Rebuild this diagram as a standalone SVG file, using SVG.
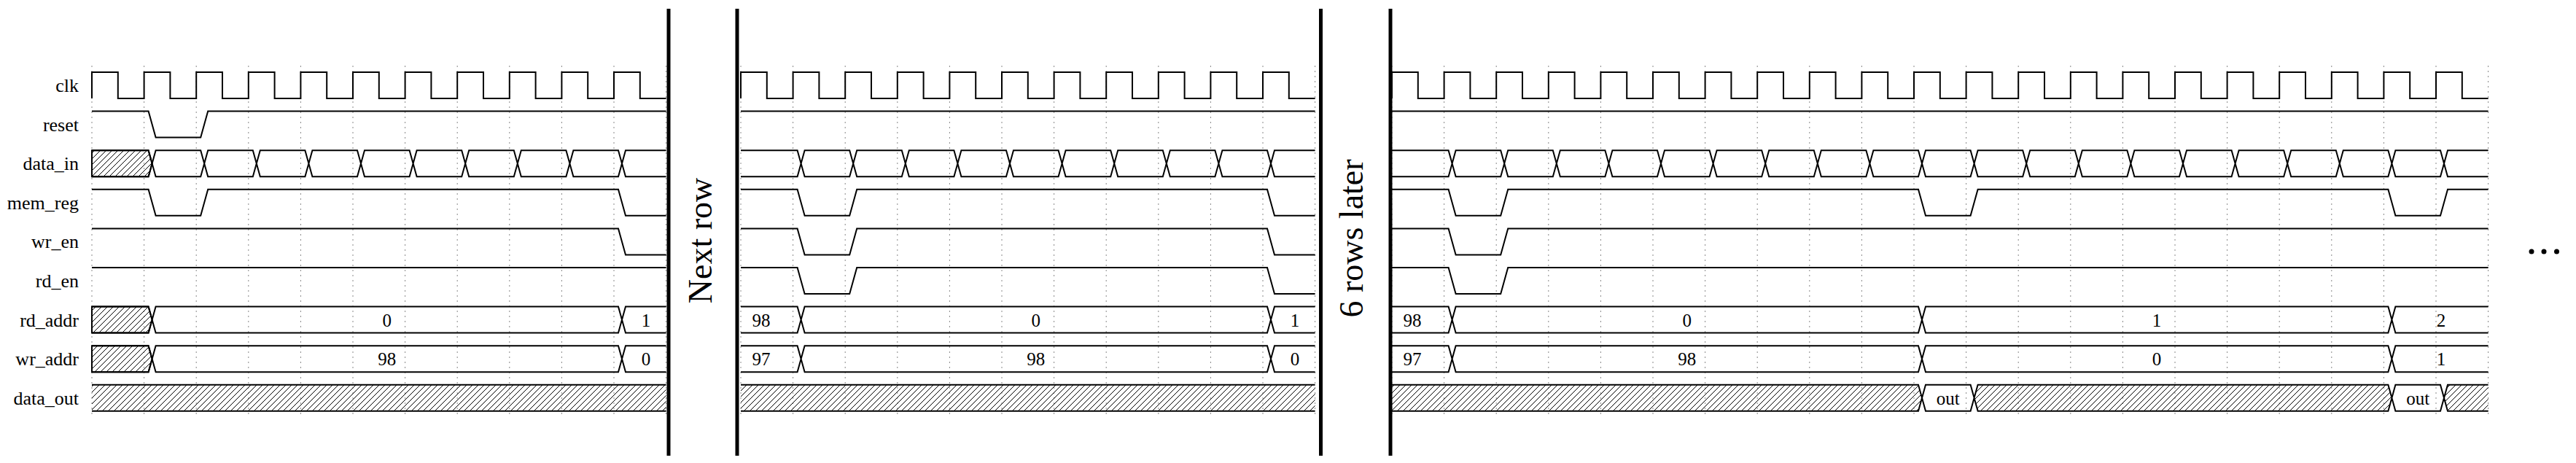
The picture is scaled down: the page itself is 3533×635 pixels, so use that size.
<svg xmlns="http://www.w3.org/2000/svg" width="3533" height="635" viewBox="0 0 3533 635">
<defs>
<pattern id="hatch" patternUnits="userSpaceOnUse" width="8" height="8">
<path d="M0,8 L8,0 M-2,2 L2,-2 M6,10 L10,6" stroke="#000" stroke-width="1"/>
</pattern>
</defs>
<style>
.sig{fill:none;stroke:#000;stroke-width:2;stroke-linejoin:miter}
.h{fill:url(#hatch);stroke:#000;stroke-width:2}
.bus{fill:#fff;stroke:#000;stroke-width:2}
.grid{stroke:#888;stroke-width:1;stroke-dasharray:2,5;fill:none}
.lbl{font-family:"Liberation Serif","Times New Roman",serif;font-size:26px;text-anchor:end;fill:#000}
.val{font-family:"Liberation Serif","Times New Roman",serif;font-size:25px;text-anchor:middle;fill:#000}
.big{font-family:"Liberation Serif","Times New Roman",serif;font-size:46px;text-anchor:middle;fill:#000}
.bar{stroke:#000;stroke-width:5}
</style>
<rect width="3533" height="635" fill="#fff"/>
<g id="labels">
<text class="lbl" x="108" y="126">clk</text>
<text class="lbl" x="108" y="179.6">reset</text>
<text class="lbl" x="108" y="233.2">data_in</text>
<text class="lbl" x="108" y="286.8">mem_reg</text>
<text class="lbl" x="108" y="340.4">wr_en</text>
<text class="lbl" x="108" y="394">rd_en</text>
<text class="lbl" x="108" y="447.6">rd_addr</text>
<text class="lbl" x="108" y="501.2">wr_addr</text>
<text class="lbl" x="108" y="554.8">data_out</text>
</g>
<g id="grid">
<path class="grid" d="M126,90V572 M197.6,90V572 M269.2,90V572 M340.8,90V572 M412.4,90V572 M484,90V572 M555.6,90V572 M627.2,90V572 M698.8,90V572 M770.4,90V572 M842,90V572 M913.6,90V572"/>
<path class="grid" d="M1016,90V572 M1087.6,90V572 M1159.2,90V572 M1230.8,90V572 M1302.4,90V572 M1374,90V572 M1445.6,90V572 M1517.2,90V572 M1588.8,90V572 M1660.4,90V572 M1732,90V572 M1803.6,90V572"/>
<path class="grid" d="M1909,90V572 M1980.6,90V572 M2052.2,90V572 M2123.8,90V572 M2195.4,90V572 M2267,90V572 M2338.6,90V572 M2410.2,90V572 M2481.8,90V572 M2553.4,90V572 M2625,90V572 M2696.6,90V572 M2768.2,90V572 M2839.8,90V572 M2911.4,90V572 M2983,90V572 M3054.6,90V572 M3126.2,90V572 M3197.8,90V572 M3269.4,90V572 M3341,90V572 M3412.6,90V572"/>
</g>
<g id="panel1">
<path class="sig" d="M126,135 V99 h35.8 V135 h35.8 V99 h35.8 V135 h35.8 V99 h35.8 V135 h35.8 V99 h35.8 V135 h35.8 V99 h35.8 V135 h35.8 V99 h35.8 V135 h35.8 V99 h35.8 V135 h35.8 V99 h35.8 V135 h35.8 V99 h35.8 V135 h35.8 V99 h35.8 V135 h35.8 V99 h35.8 V135 h35.8"/>
<path class="sig" d="M126,152.6 H203.6 L213.6,188.6 H275.2 L285.2,152.6 H913.6"/>
<path class="sig" d="M126,259.8 H203.6 L213.6,295.8 H275.2 L285.2,259.8 H848 L858,295.8 H913.6"/>
<path class="sig" d="M126,313.4 H848 L858,349.4 H913.6"/>
<path class="sig" d="M126,367 H913.6"/>
<path class="h" stroke="none" d="M126,206.2 H203.6 L208.6,224.2 L203.6,242.2 H126 Z"/>
<path class="sig" d="M126,206.2 H203.6 L208.6,224.2 L203.6,242.2 H126"/>
<path class="sig" d="M208.6,224.2 l5,-18 h61.6 l5,18 l-5,18 h-61.6 z m71.6,0 l5,-18 h61.6 l5,18 l-5,18 h-61.6 z m71.6,0 l5,-18 h61.6 l5,18 l-5,18 h-61.6 z m71.6,0 l5,-18 h61.6 l5,18 l-5,18 h-61.6 z m71.6,0 l5,-18 h61.6 l5,18 l-5,18 h-61.6 z m71.6,0 l5,-18 h61.6 l5,18 l-5,18 h-61.6 z m71.6,0 l5,-18 h61.6 l5,18 l-5,18 h-61.6 z m71.6,0 l5,-18 h61.6 l5,18 l-5,18 h-61.6 z m71.6,0 l5,-18 h61.6 l5,18 l-5,18 h-61.6 z M853,224.2 L858,206.2 H913.6 M853,224.2 L858,242.2 H913.6"/>
<path class="h" stroke="none" d="M126,420.6 H203.6 L208.6,438.6 L203.6,456.6 H126 Z"/>
<path class="sig" d="M126,420.6 H203.6 L208.6,438.6 L203.6,456.6 H126 M208.6,438.6 L213.6,420.6 H848 L853,438.6 L848,456.6 H213.6 Z M853,438.6 L858,420.6 H913.6 M853,438.6 L858,456.6 H913.6"/>
<text class="val" x="530.8" y="447.6">0</text>
<text class="val" x="886" y="447.6">1</text>
<path class="h" stroke="none" d="M126,474.2 H203.6 L208.6,492.2 L203.6,510.2 H126 Z"/>
<path class="sig" d="M126,474.2 H203.6 L208.6,492.2 L203.6,510.2 H126 M208.6,492.2 L213.6,474.2 H848 L853,492.2 L848,510.2 H213.6 Z M853,492.2 L858,474.2 H913.6 M853,492.2 L858,510.2 H913.6"/>
<text class="val" x="530.8" y="501.2">98</text>
<text class="val" x="886" y="501.2">0</text>
<rect x="126" y="527.8" width="787.6" height="36" fill="url(#hatch)"/>
<path class="sig" d="M126,527.8 H913.6 M126,563.8 H913.6"/>
</g>
<g id="panel2">
<path class="sig" d="M1016,135 V99 h35.8 V135 h35.8 V99 h35.8 V135 h35.8 V99 h35.8 V135 h35.8 V99 h35.8 V135 h35.8 V99 h35.8 V135 h35.8 V99 h35.8 V135 h35.8 V99 h35.8 V135 h35.8 V99 h35.8 V135 h35.8 V99 h35.8 V135 h35.8 V99 h35.8 V135 h35.8 V99 h35.8 V135 h35.8"/>
<path class="sig" d="M1016,152.6 H1803.6"/>
<path class="sig" d="M1016,259.8 H1093.6 L1103.6,295.8 H1165.2 L1175.2,259.8 H1738 L1748,295.8 H1803.6"/>
<path class="sig" d="M1016,313.4 H1093.6 L1103.6,349.4 H1165.2 L1175.2,313.4 H1738 L1748,349.4 H1803.6"/>
<path class="sig" d="M1016,367 H1093.6 L1103.6,403 H1165.2 L1175.2,367 H1738 L1748,403 H1803.6"/>
<path class="sig" d="M1016,206.2 H1093.6 L1098.6,224.2 L1093.6,242.2 H1016 M1098.6,224.2 l5,-18 h61.6 l5,18 l-5,18 h-61.6 z m71.6,0 l5,-18 h61.6 l5,18 l-5,18 h-61.6 z m71.6,0 l5,-18 h61.6 l5,18 l-5,18 h-61.6 z m71.6,0 l5,-18 h61.6 l5,18 l-5,18 h-61.6 z m71.6,0 l5,-18 h61.6 l5,18 l-5,18 h-61.6 z m71.6,0 l5,-18 h61.6 l5,18 l-5,18 h-61.6 z m71.6,0 l5,-18 h61.6 l5,18 l-5,18 h-61.6 z m71.6,0 l5,-18 h61.6 l5,18 l-5,18 h-61.6 z m71.6,0 l5,-18 h61.6 l5,18 l-5,18 h-61.6 z M1743,224.2 L1748,206.2 H1803.6 M1743,224.2 L1748,242.2 H1803.6"/>
<path class="sig" d="M1016,420.6 H1093.6 L1098.6,438.6 L1093.6,456.6 H1016 M1098.6,438.6 L1103.6,420.6 H1738 L1743,438.6 L1738,456.6 H1103.6 Z M1743,438.6 L1748,420.6 H1803.6 M1743,438.6 L1748,456.6 H1803.6"/>
<text class="val" x="1044" y="447.6">98</text>
<text class="val" x="1420.8" y="447.6">0</text>
<text class="val" x="1776" y="447.6">1</text>
<path class="sig" d="M1016,474.2 H1093.6 L1098.6,492.2 L1093.6,510.2 H1016 M1098.6,492.2 L1103.6,474.2 H1738 L1743,492.2 L1738,510.2 H1103.6 Z M1743,492.2 L1748,474.2 H1803.6 M1743,492.2 L1748,510.2 H1803.6"/>
<text class="val" x="1044" y="501.2">97</text>
<text class="val" x="1420.8" y="501.2">98</text>
<text class="val" x="1776" y="501.2">0</text>
<rect x="1016" y="527.8" width="787.6" height="36" fill="url(#hatch)"/>
<path class="sig" d="M1016,527.8 H1803.6 M1016,563.8 H1803.6"/>
</g>
<g id="panel3">
<path class="sig" d="M1909,135 V99 h35.8 V135 h35.8 V99 h35.8 V135 h35.8 V99 h35.8 V135 h35.8 V99 h35.8 V135 h35.8 V99 h35.8 V135 h35.8 V99 h35.8 V135 h35.8 V99 h35.8 V135 h35.8 V99 h35.8 V135 h35.8 V99 h35.8 V135 h35.8 V99 h35.8 V135 h35.8 V99 h35.8 V135 h35.8 V99 h35.8 V135 h35.8 V99 h35.8 V135 h35.8 V99 h35.8 V135 h35.8 V99 h35.8 V135 h35.8 V99 h35.8 V135 h35.8 V99 h35.8 V135 h35.8 V99 h35.8 V135 h35.8 V99 h35.8 V135 h35.8 V99 h35.8 V135 h35.8 V99 h35.8 V135 h35.8"/>
<path class="sig" d="M1909,152.6 H3412.6"/>
<path class="sig" d="M1909,259.8 H1986.6 L1996.6,295.8 H2058.2 L2068.2,259.8 H2631 L2641,295.8 H2702.6 L2712.6,259.8 H3275.4 L3285.4,295.8 H3347 L3357,259.8 H3412.6"/>
<path class="sig" d="M1909,313.4 H1986.6 L1996.6,349.4 H2058.2 L2068.2,313.4 H3412.6"/>
<path class="sig" d="M1909,367 H1986.6 L1996.6,403 H2058.2 L2068.2,367 H3412.6"/>
<path class="sig" d="M1909,206.2 H1986.6 L1991.6,224.2 L1986.6,242.2 H1909 M1991.6,224.2 l5,-18 h61.6 l5,18 l-5,18 h-61.6 z m71.6,0 l5,-18 h61.6 l5,18 l-5,18 h-61.6 z m71.6,0 l5,-18 h61.6 l5,18 l-5,18 h-61.6 z m71.6,0 l5,-18 h61.6 l5,18 l-5,18 h-61.6 z m71.6,0 l5,-18 h61.6 l5,18 l-5,18 h-61.6 z m71.6,0 l5,-18 h61.6 l5,18 l-5,18 h-61.6 z m71.6,0 l5,-18 h61.6 l5,18 l-5,18 h-61.6 z m71.6,0 l5,-18 h61.6 l5,18 l-5,18 h-61.6 z m71.6,0 l5,-18 h61.6 l5,18 l-5,18 h-61.6 z m71.6,0 l5,-18 h61.6 l5,18 l-5,18 h-61.6 z m71.6,0 l5,-18 h61.6 l5,18 l-5,18 h-61.6 z m71.6,0 l5,-18 h61.6 l5,18 l-5,18 h-61.6 z m71.6,0 l5,-18 h61.6 l5,18 l-5,18 h-61.6 z m71.6,0 l5,-18 h61.6 l5,18 l-5,18 h-61.6 z m71.6,0 l5,-18 h61.6 l5,18 l-5,18 h-61.6 z m71.6,0 l5,-18 h61.6 l5,18 l-5,18 h-61.6 z m71.6,0 l5,-18 h61.6 l5,18 l-5,18 h-61.6 z m71.6,0 l5,-18 h61.6 l5,18 l-5,18 h-61.6 z m71.6,0 l5,-18 h61.6 l5,18 l-5,18 h-61.6 z M3352,224.2 L3357,206.2 H3412.6 M3352,224.2 L3357,242.2 H3412.6"/>
<path class="sig" d="M1909,420.6 H1986.6 L1991.6,438.6 L1986.6,456.6 H1909 M1991.6,438.6 L1996.6,420.6 H2631 L2636,438.6 L2631,456.6 H1996.6 Z M2636,438.6 L2641,420.6 H3275.4 L3280.4,438.6 L3275.4,456.6 H2641 Z M3280.4,438.6 L3285.4,420.6 H3412.6 M3280.4,438.6 L3285.4,456.6 H3412.6"/>
<text class="val" x="1937" y="447.6">98</text>
<text class="val" x="2313.8" y="447.6">0</text>
<text class="val" x="2958" y="447.6">1</text>
<text class="val" x="3348" y="447.6">2</text>
<path class="sig" d="M1909,474.2 H1986.6 L1991.6,492.2 L1986.6,510.2 H1909 M1991.6,492.2 L1996.6,474.2 H2631 L2636,492.2 L2631,510.2 H1996.6 Z M2636,492.2 L2641,474.2 H3275.4 L3280.4,492.2 L3275.4,510.2 H2641 Z M3280.4,492.2 L3285.4,474.2 H3412.6 M3280.4,492.2 L3285.4,510.2 H3412.6"/>
<text class="val" x="1937" y="501.2">97</text>
<text class="val" x="2313.8" y="501.2">98</text>
<text class="val" x="2958" y="501.2">0</text>
<text class="val" x="3348" y="501.2">1</text>
<path fill="url(#hatch)" d="M1909,527.8 H2631 L2636,545.8 L2631,563.8 H1909 Z M2707.6,545.8 L2712.6,527.8 H3275.4 L3280.4,545.8 L3275.4,563.8 H2712.6 Z M3352,545.8 L3357,527.8 H3412.6 V563.8 H3357 Z"/>
<path class="sig" d="M1909,527.8 H2631 L2636,545.8 L2631,563.8 H1909 M2636,545.8 L2641,527.8 H2702.6 L2707.6,545.8 L2702.6,563.8 H2641 Z M2707.6,545.8 L2712.6,527.8 H3275.4 L3280.4,545.8 L3275.4,563.8 H2712.6 Z M3280.4,545.8 L3285.4,527.8 H3347 L3352,545.8 L3347,563.8 H3285.4 Z M3352,545.8 L3357,527.8 H3412.6 M3352,545.8 L3357,563.8 H3412.6"/>
<text class="val" x="2671.8" y="554.8">out</text>
<text class="val" x="3316.2" y="554.8">out</text>
</g>
<g id="separators">
<line class="bar" x1="917" y1="12" x2="917" y2="625"/>
<line class="bar" x1="1011" y1="12" x2="1011" y2="625"/>
<line class="bar" x1="1811.5" y1="12" x2="1811.5" y2="625"/>
<line class="bar" x1="1907" y1="12" x2="1907" y2="625"/>
<text class="big" transform="translate(976,330) rotate(-90)">Next row</text>
<text class="big" transform="translate(1869,327) rotate(-90)">6 rows later</text>
</g>
<g id="ellipsis">
<circle cx="3472" cy="345" r="3.5"/>
<circle cx="3489" cy="345" r="3.5"/>
<circle cx="3506.5" cy="345" r="3.5"/>
</g>
</svg>
